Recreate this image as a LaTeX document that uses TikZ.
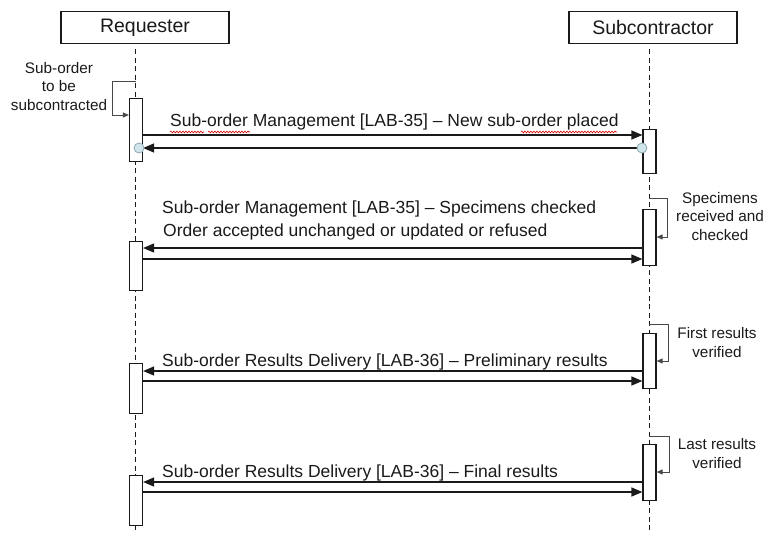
\documentclass[tikz,border=0pt]{standalone}
\usepackage{fontspec}
\setmainfont{Liberation Sans}
\usetikzlibrary{arrows.meta,decorations.pathmorphing}
\definecolor{ink}{HTML}{1A1A1A}
\definecolor{pinfill}{HTML}{CFE6EC}
\definecolor{pinline}{HTML}{8FA9B0}
\tikzset{
  head/.style={draw=ink, line width=1.3pt, fill=white, minimum width=168pt, minimum height=32pt,
    inner sep=0pt, font=\fontsize{19.5}{22}\selectfont, text=ink},
  lifeline/.style={draw=ink, line width=1pt, dash pattern=on 5pt off 3.5pt},
  actbar/.style={draw=ink, line width=1.2pt, fill=white, minimum width=13pt, inner sep=0pt, anchor=north},
  msg/.style={draw=ink, line width=1.3pt, -{Triangle[length=11pt,width=9pt]}},
  selfloop/.style={draw=ink!80, line width=1pt, -{Triangle[length=6pt,width=5pt]}},
  msglabel/.style={font=\fontsize{17.5}{20}\selectfont, text=ink, inner sep=0pt, anchor=base west},
  note/.style={font=\fontsize{15.3}{18.5}\selectfont, text=ink, align=center, inner sep=0pt},
  pin/.style={circle, draw=pinline, fill=pinfill, line width=0.8pt, minimum size=10pt, inner sep=0pt},
  squiggle/.style={draw=red!85!black, line width=0.6pt, decorate,
    decoration={snake, amplitude=0.9pt, segment length=3pt}}
}
\begin{document}
\begin{tikzpicture}[x=1pt,y=-1pt]
\useasboundingbox (0,0) rectangle (764,533);

% participants
\node[head] (req) at (145,27.5) {Requester};
\node[head] (sub) at (653,27.5) {Subcontractor};

% lifelines
\coordinate (reqend) at (135.5,533);
\coordinate (subend) at (649,533);
\draw[lifeline] (req.south -| reqend) ++(0,5) -- (reqend);
\draw[lifeline] (sub.south -| subend) ++(0,5) -- (subend);

% activation bars, requester
\node[actbar, minimum height=63pt] (r1) at (136,98) {};
\node[actbar, minimum height=49pt] (r2) at (136,241) {};
\node[actbar, minimum height=50pt] (r3) at (136,363) {};
\node[actbar, minimum height=50pt] (r4) at (136,475) {};

% activation bars, subcontractor
\node[actbar, minimum height=44pt] (s1) at (649.5,129) {};
\node[actbar, minimum height=56pt] (s2) at (649.5,209) {};
\node[actbar, minimum height=55pt] (s3) at (649.5,333) {};
\node[actbar, minimum height=56pt] (s4) at (649.5,444) {};

% self calls
\draw[selfloop] (135.5,81) -- (112,81) -- (112,115) -- (r1.west |- 0,115);
\draw[selfloop] (649,198) -- (667,198) -- (667,237) -- (s2.east |- 0,237);
\draw[selfloop] (649,324) -- (668,324) -- (668,361) -- (s3.east |- 0,361);
\draw[selfloop] (649,436) -- (669,436) -- (669,472) -- (s4.east |- 0,472);

\node[note] (n1) at (59,86.5) {Sub-order\\to be\\subcontracted};
\node[note] (n2) at (720,216.5) {Specimens\\received and\\checked};
\node[note] (n3) at (717,342.5) {First results\\verified};
\node[note] (n4) at (717,453.5) {Last results\\verified};

% LAB-35 new sub-order
\draw[msg] (r1.east |- 0,135) -- (s1.west |- 0,135);
\draw[msg] (s1.west |- 0,148) -- (r1.east |- 0,148);
\node[pin] (p1) at (139,148) {};
\node[pin] (p2) at (642,148) {};
\node[msglabel] (m1) at (170,126) {Sub-order Management [LAB-35] – New sub-order placed};
\draw[squiggle] (170,132) -- (204,132);
\draw[squiggle] (208,132) -- (250,132);
\draw[squiggle] (521,132) -- (617,132);

% LAB-35 specimens checked
\draw[msg] (s2.west |- 0,248) -- (r2.east |- 0,248);
\draw[msg] (r2.east |- 0,259) -- (s2.west |- 0,259);
\node[msglabel] (m2) at (162,213) {Sub-order Management [LAB-35] – Specimens checked};
\node[msglabel] (m2b) at (163,236) {Order accepted unchanged or updated or refused};

% LAB-36 preliminary results
\draw[msg] (s3.west |- 0,371) -- (r3.east |- 0,371);
\draw[msg] (r3.east |- 0,381) -- (s3.west |- 0,381);
\node[msglabel] (m3) at (162,366) {Sub-order Results Delivery [LAB-36] – Preliminary results};

% LAB-36 final results
\draw[msg] (s4.west |- 0,482) -- (r4.east |- 0,482);
\draw[msg] (r4.east |- 0,492) -- (s4.west |- 0,492);
\node[msglabel] (m4) at (162,477) {Sub-order Results Delivery [LAB-36] – Final results};
\end{tikzpicture}
\end{document}
